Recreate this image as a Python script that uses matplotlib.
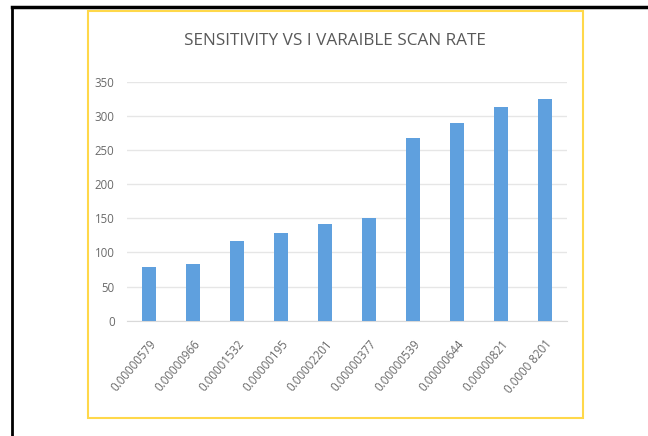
import matplotlib.pyplot as plt
from matplotlib.patches import Rectangle
from matplotlib.lines import Line2D

# data
scan_rates = ['0.00000579', '0.00000966', '0.00001532', '0.00000195', '0.00002201',
              '0.00000377', '0.00000539', '0.00000644', '0.00000821', '0.0000 8201']
sensitivity = [78, 83, 117, 128, 141, 151, 268, 290, 313, 325]
y_ticks = [0, 50, 100, 150, 200, 250, 300, 350]

grey = '#595959'

fig = plt.figure(figsize=(6.48, 4.36), dpi=100)
ax = fig.add_axes([0.196, 0.2644, 0.679, 0.548])

x = range(len(scan_rates))
ax.bar(x, sensitivity, width=0.32, color='#5FA0DE', zorder=3)

ax.set_xlim(-0.5, len(scan_rates) - 0.5)
ax.set_ylim(0, 350)
ax.set_yticks(y_ticks)
ax.set_xticks(list(x))
ax.set_xticklabels(scan_rates, rotation=50, ha='right', va='top',
                   rotation_mode='anchor', fontsize=8.3, color='#6A6A6A',
                   family='Open Sans')
for lbl in ax.get_yticklabels():
    lbl.set_fontsize(8.3)
    lbl.set_color('#6A6A6A')
    lbl.set_family('Open Sans')

ax.grid(axis='y', color='#E6E6E6', linewidth=1, zorder=0)
ax.tick_params(axis='y', length=0, pad=9)
ax.tick_params(axis='x', length=0, pad=12)
for side in ['top', 'right', 'left']:
    ax.spines[side].set_visible(False)
ax.spines['bottom'].set_color('#D9D9D9')

fig.text(0.517, 0.906, 'SENSITIVITY VS I VARAIBLE SCAN RATE', ha='center', va='center',
         fontsize=12.3, color=grey, family='Open Sans')

# yellow chart border and black page frame
fig.patches.append(Rectangle((0.136, 0.041), 0.764, 0.934, transform=fig.transFigure,
                             fill=False, edgecolor='#FFD84A', linewidth=1.5))
fig.lines.append(Line2D([0.0185, 0.0185], [0, 0.985], transform=fig.transFigure,
                        color='black', linewidth=2))
fig.lines.append(Line2D([0.0185, 1], [0.985, 0.985], transform=fig.transFigure,
                        color='black', linewidth=2.5))

fig.savefig('out.png', dpi=100)
